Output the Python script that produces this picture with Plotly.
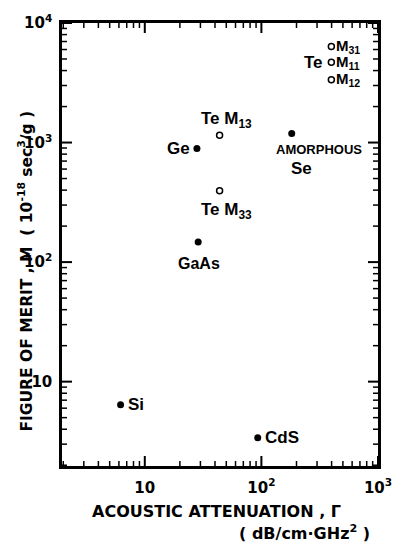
import numpy as np
import plotly.graph_objects as go

# data (attenuation dB/cm GHz^2, figure of merit 1e-18 s^3/g)
filled_names = ["Si", "CdS", "Ge", "GaAs", "Se"]
filled_x = [6.2, 93, 28, 28.7, 182]
filled_y = [6.4, 3.4, 890, 147, 1190]

open_names = ["Te M13", "Te M33", "Te M31", "Te M11", "Te M12"]
open_x = [43.8, 43.8, 398, 398, 398]
open_y = [1150, 396, 6350, 4700, 3350]

xtick_vals = [10, 100, 1000]
xtick_text = ["<b>10</b>", "<b>10<sup>2</sup></b>", "<b>10<sup>3</sup></b>"]
ytick_vals = [10, 100, 1000, 10000]
ytick_text = ["<b>10</b>", "<b>10<sup>2</sup></b>", "<b>10<sup>3</sup></b>", "<b>10<sup>4</sup></b>"]

FONT = "Liberation Sans"
TFONT = "DejaVu Sans"
lg = np.log10
XR = [float(lg(1.95)), 3.0]
YR = [float(lg(1.97)), 4.0]

fig = go.Figure()
fig.add_trace(go.Scatter(x=filled_x, y=filled_y, mode="markers",
                         marker=dict(color="black", size=7), showlegend=False))
fig.add_trace(go.Scatter(x=open_x, y=open_y, mode="markers",
                         marker=dict(color="white", size=6, line=dict(color="black", width=1.5)),
                         showlegend=False))
# empty helper trace so the linear tick-helper axes exist
fig.add_trace(go.Scatter(x=[], y=[], xaxis="x2", yaxis="y2", showlegend=False,
                         hoverinfo="skip"))

def ann(x, y, text, xanchor, yanchor, xs, ys, size=17, fam=FONT):
    fig.add_annotation(x=float(lg(x)), y=float(lg(y)), text="<b>" + text + "</b>",
                       showarrow=False, xanchor=xanchor, yanchor=yanchor, xshift=xs, yshift=ys,
                       font=dict(family=fam, size=size, color="black"))

ann(filled_x[0], filled_y[0], "Si", "left", "middle", 5, 0)
ann(filled_x[1], filled_y[1], "CdS", "left", "middle", 5, 0)
ann(filled_x[2], filled_y[2], "Ge", "right", "middle", -5, 0)
ann(filled_x[3], filled_y[3], "GaAs", "center", "top", 1, -11, size=16)
ann(filled_x[4], filled_y[4], "AMORPHOUS", "left", "top", -18, -6, size=13)
ann(filled_x[4], filled_y[4], "Se", "left", "top", -3, -23)
ann(open_x[0], open_y[0], "Te M<sub>13</sub>", "left", "bottom", -21, 2)
ann(open_x[1], open_y[1], "Te M<sub>33</sub>", "left", "top", -21, -7)
ann(open_x[2], open_y[2], "M<sub>31</sub>", "left", "middle", 3, 0, size=15)
ann(open_x[3], open_y[3], "M<sub>11</sub>", "left", "middle", 3, 0, size=15)
ann(open_x[4], open_y[4], "M<sub>12</sub>", "left", "middle", 3, 0, size=15)
ann(open_x[3], open_y[3], "Te", "right", "middle", -6, 0)

fig.add_annotation(xref="paper", yref="paper", x=-0.155, y=0.44, textangle=-90,
                   text="<b>FIGURE OF MERIT , M  ( 10<sup>-18</sup> sec<sup>3</sup>/g )</b>",
                   showarrow=False, font=dict(family=TFONT, size=15.5, color="black"))
fig.add_annotation(xref="paper", yref="paper", x=0.49, y=-0.076, yanchor="top",
                   text="<b>ACOUSTIC ATTENUATION , Γ</b>", showarrow=False,
                   font=dict(family=TFONT, size=16, color="black"))
fig.add_annotation(xref="paper", yref="paper", x=0.98, y=-0.122, yanchor="top", xanchor="right",
                   text="<b>( dB/cm·GHz<sup>2</sup> )</b>", showarrow=False,
                   font=dict(family=TFONT, size=16, color="black"))

# tick marks (major at decades, minor at 2..9), drawn on linear helper axes in log units
def tick_positions(lo, hi):
    out = []
    for d in range(int(np.floor(lo)), int(np.ceil(hi)) + 1):
        for m in range(1, 10):
            v = np.log10(m) + d
            if lo - 1e-9 <= v <= hi + 1e-9:
                out.append((float(v), m == 1))
    return out

for v, major in tick_positions(*XR):
    L, wdt = (10, 2) if major else (5, 1.5)
    for anc, sgn in ((0, 1), (1, -1)):
        fig.add_shape(type="line", xref="x2", yref="paper", x0=v, x1=v,
                      ysizemode="pixel", yanchor=anc, y0=0, y1=sgn * L,
                      line=dict(color="black", width=wdt))
for v, major in tick_positions(*YR):
    L, wdt = (10, 2) if major else (5, 1.5)
    for anc, sgn in ((0, 1), (1, -1)):
        fig.add_shape(type="line", yref="y2", xref="paper", y0=v, y1=v,
                      xsizemode="pixel", xanchor=anc, x0=0, x1=sgn * L,
                      line=dict(color="black", width=wdt))

base = dict(type="log", showgrid=False, showline=True, zeroline=False,
            linecolor="black", linewidth=2.5, mirror=True, ticks="")

fig.update_layout(
    xaxis=dict(range=XR, tickvals=xtick_vals, ticktext=xtick_text, ticklabelstandoff=6,
               tickfont=dict(family=TFONT, size=15, color="black"), **base),
    yaxis=dict(range=YR, tickvals=ytick_vals, ticktext=ytick_text, ticklabelstandoff=4,
               tickfont=dict(family=TFONT, size=15, color="black"), **base),
    xaxis2=dict(type="linear", range=XR, overlaying="x", anchor="y", visible=False),
    yaxis2=dict(type="linear", range=YR, overlaying="y", anchor="x", visible=False),
    width=404, height=544, margin=dict(l=62, r=16, t=23, b=78),
    plot_bgcolor="white", paper_bgcolor="white", showlegend=False)
fig.write_html("out.html")
